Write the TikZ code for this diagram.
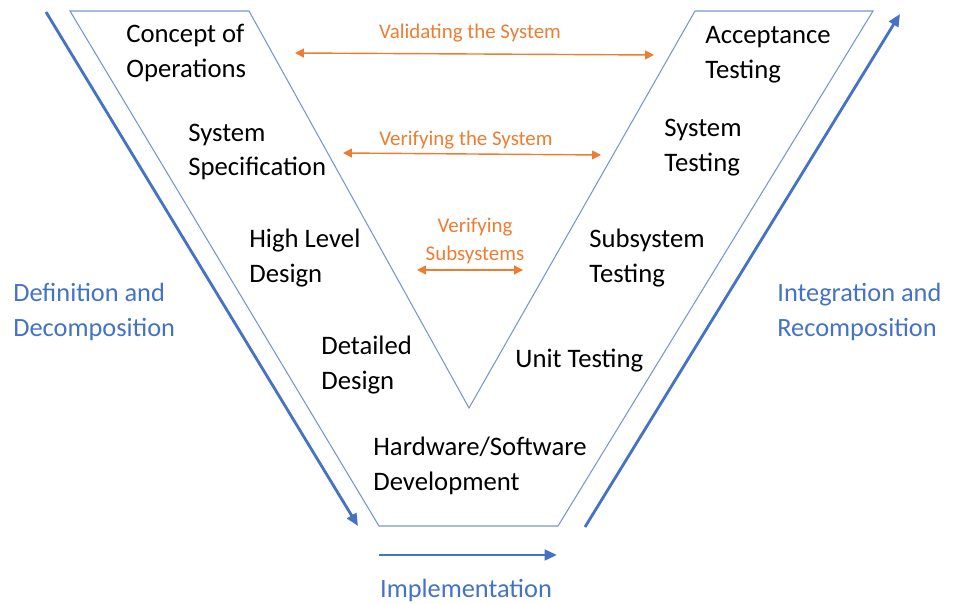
\documentclass[tikz,border=0pt]{standalone}
\usepackage{fontspec}
\setmainfont{Carlito}
\usetikzlibrary{arrows.meta}
\definecolor{vline}{RGB}{120,150,205}
\definecolor{vblue}{RGB}{68,114,196}
\definecolor{vorange}{RGB}{237,125,49}
\tikzset{
  phase/.style={anchor=west, align=left, inner sep=0pt, font=\fontsize{15.2}{19.8}\selectfont},
  side/.style={anchor=west, align=left, inner sep=0pt, text=vblue, font=\fontsize{15}{19.5}\selectfont},
  check/.style={inner sep=0pt, align=center, text=vorange, font=\fontsize{11.9}{15.5}\selectfont},
  checkline/.style={vorange, thick, {Triangle[length=5pt,width=5pt]}-{Triangle[length=5pt,width=5pt]}},
  flow/.style={vblue, line width=1.6pt, -{Triangle[length=7pt,width=6pt]}}
}
\begin{document}
\begin{tikzpicture}[x=0.02cm, y=-0.02cm]
    \useasboundingbox (0,0) rectangle (957,604);

    % Draw the V outline
    \draw[vline, line width=0.6pt] (70,11) -- (249,11) -- (469,408) -- (695,11) -- (873,11)
        -- (558,526) -- (379,526) -- cycle;

    % Draw nodes for the left leg
    \node[phase] (conops) at (126,53) {Concept of\\Operations};
    \node[phase] (sysspec) at (188,152) {System\\Specification};
    \node[phase] (hld) at (249,258) {High Level\\Design};
    \node[phase] (dd) at (321,365) {Detailed\\Design};
    \node[phase] (hwsw) at (373,466) {Hardware/Software\\Development};

    % Draw nodes for the right leg
    \node[phase] (unit) at (515,361) {Unit Testing};
    \node[phase] (subtest) at (589,258) {Subsystem\\Testing};
    \node[phase] (systest) at (664,148) {System\\Testing};
    \node[phase] (accept) at (705,55) {Acceptance\\Testing};

    % Draw side labels
    \node[side] (defn) at (13,312) {Definition and\\Decomposition};
    \node[side] (integ) at (777,312) {Integration and\\Recomposition};
    \node[side, anchor=center, align=center] (impl) at (466,590) {Implementation};

    % Draw the check labels
    \node[check] (valsys) at (470,33) {Validating the System};
    \node[check] (versys) at (466,140) {Verifying the System};
    \node[check] (versub) at (475,241) {Verifying\\Subsystems};

    % Coordinates for arrow ends
    \coordinate (val1) at (295,53);
    \coordinate (val2) at (654,55);
    \coordinate (ver1) at (343,153);
    \coordinate (ver2) at (601,155);
    \coordinate (sub1) at (417,270);
    \coordinate (sub2) at (523,270);
    \coordinate (down1) at (46,12);
    \coordinate (down2) at (358,526);
    \coordinate (up1) at (585,527);
    \coordinate (up2) at (900,14);
    \coordinate (imp1) at (379,555);
    \coordinate (imp2) at (557,555);

    % Draw the orange arrows
    \draw[checkline] (val1) -- (val2); % Validating the system
    \draw[checkline] (ver1) -- (ver2); % Verifying the system
    \draw[checkline] (sub1) -- (sub2); % Verifying subsystems

    % Draw the blue arrows
    \draw[flow] (down1) -- (down2); % Definition and decomposition
    \draw[flow] (up1) -- (up2); % Integration and recomposition
    \draw[flow] (imp1) -- (imp2); % Implementation
\end{tikzpicture}
\end{document}
